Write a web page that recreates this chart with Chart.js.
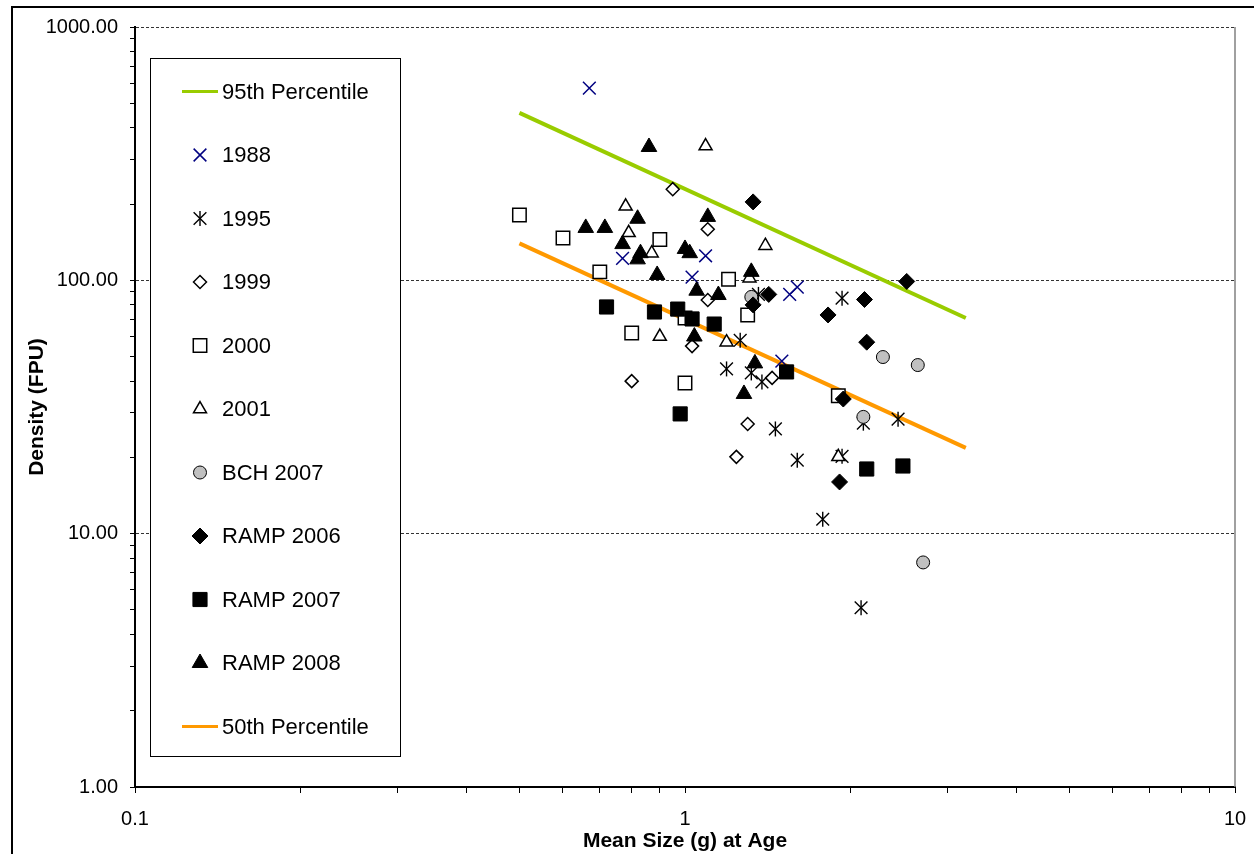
<!DOCTYPE html>
<html>
<head>
<meta charset="utf-8">
<title>Density vs Mean Size at Age</title>
<script src="https://cdn.jsdelivr.net/npm/chart.js@4.4.0/dist/chart.umd.min.js"></script>
<style>
  html, body { margin: 0; padding: 0; background: #fff; }
  #wrap { width: 1254px; height: 854px; }
</style>
</head>
<body>
<div id="wrap"><canvas id="density-chart" width="1254" height="854"></canvas></div>
<script>
// values (x = mean size in g, y = density in FPU)
const x95 = [0.50, 3.24];
const y95 = [458, 71];
const x50 = [0.50, 3.24];
const y50 = [140, 21.8];

const x1988 = [0.67, 0.77, 1.03, 1.09, 1.55, 1.60, 1.50];
const y1988 = [574, 122, 103, 125, 88, 94, 48];

const x1995 = [1.26, 1.19, 1.32, 1.38, 1.36, 1.46, 1.60, 1.93, 1.78, 1.93, 2.11, 2.44, 2.09];
const y1995 = [58, 44.7, 43.1, 39.7, 88, 25.9, 19.5, 85, 11.4, 20.2, 27.3, 28.3, 5.1];

const x1999 = [0.95, 1.10, 1.10, 1.03, 0.80, 1.30, 1.24, 1.44];
const y1999 = [229, 159, 83.6, 55, 40, 27.1, 20.1, 41.2];

const x2000 = [0.50, 0.60, 0.70, 0.90, 0.80, 1.00, 1.00, 1.20, 1.30, 1.90];
const y2000 = [181, 147, 108, 145, 62, 39.3, 71, 101, 73, 35];

const x2001 = [1.09, 0.78, 0.79, 0.87, 0.90, 1.40, 1.19, 1.31, 1.90];
const y2001 = [339, 196, 154, 128, 60, 137, 57, 102, 20.1];

const xBch2007 = [1.32, 2.29, 2.65, 2.11, 2.71];
const yBch2007 = [86, 49.8, 46.3, 28.9, 7.7];

const xRamp2006 = [1.33, 1.42, 1.33, 1.82, 2.12, 2.53, 2.14, 1.94, 1.91];
const yRamp2006 = [204, 88, 80, 73, 84, 99, 57, 34, 16];

const xRamp2007 = [0.72, 0.88, 0.97, 1.03, 1.13, 0.98, 1.53, 2.14, 2.49];
const yRamp2007 = [78.5, 75, 77, 70.4, 67.2, 29.7, 43.5, 18, 18.5];

const xRamp2008 = [0.86, 0.66, 0.715, 0.82, 0.77, 0.83, 0.82, 0.89, 1.00, 1.02, 1.10, 1.05, 1.15, 1.32, 1.04, 1.34, 1.28];
const yRamp2008 = [336, 161, 161, 175, 139, 128, 121, 105, 133, 128, 178, 91, 87.5, 108, 60, 47, 35.6];

const xMajorTicks = [0.1, 1, 10];
const xTickLabels = ['0.1', '1', '10'];
const yMajorTicks = [1, 10, 100, 1000];
const yTickLabels = ['1.00', '10.00', '100.00', '1000.00'];

const fontFamily = 'Arial, "Liberation Sans", sans-serif';

function toPoints(xs, ys) {
    return xs.map((x, i) => ({ x: x, y: ys[i] }));
}

// ticks at 1..9 of every decade, like Excel's log axis
function logTicks(min, max) {
    const t = [];
    for (let d = min; d < max * 0.999; d *= 10) {
        for (let k = 1; k < 10; k++) t.push(+(d * k).toPrecision(3));
    }
    t.push(max);
    return t.map(v => ({ value: v }));
}

// 1995 uses Excel's "star" marker: an X plus a vertical bar (overlay)
const series = [
    { label: '95th Percentile', xs: x95, ys: y95, line: true, color: '#99CC00' },
    { label: '1988', xs: x1988, ys: y1988, style: 'crossRot', radius: 9, fill: '#000080', border: '#000080', bw: 1.5 },
    { label: '1995', xs: x1995, ys: y1995, style: 'crossRot', radius: 9, fill: '#000', border: '#000', bw: 1.4,
      overlay: { style: 'line', rotation: 90, radius: 7.5 } },
    { label: '1999', xs: x1999, ys: y1999, style: 'rectRot', radius: 6.5, fill: '#fff', border: '#000', bw: 1.5 },
    { label: '2000', xs: x2000, ys: y2000, style: 'rect', radius: 9.5, fill: '#fff', border: '#000', bw: 1.5 },
    { label: '2001', xs: x2001, ys: y2001, style: 'triangle', radius: 7.5, fill: '#fff', border: '#000', bw: 1.5 },
    { label: 'BCH 2007', xs: xBch2007, ys: yBch2007, style: 'circle', radius: 6.5, fill: '#C0C0C0', border: '#000', bw: 1 },
    { label: 'RAMP 2006', xs: xRamp2006, ys: yRamp2006, style: 'rectRot', radius: 8, fill: '#000', border: '#000', bw: 1 },
    { label: 'RAMP 2007', xs: xRamp2007, ys: yRamp2007, style: 'rect', radius: 10, fill: '#000', border: '#000', bw: 1 },
    { label: 'RAMP 2008', xs: xRamp2008, ys: yRamp2008, style: 'triangle', radius: 9, fill: '#000', border: '#000', bw: 1 },
    { label: '50th Percentile', xs: x50, ys: y50, line: true, color: '#FF9900' }
];

const datasets = [];
series.forEach((s, i) => {
    if (s.line) {
        datasets.push({
            label: s.label,
            data: toPoints(s.xs, s.ys),
            showLine: true,
            borderColor: s.color,
            borderWidth: 4,
            pointRadius: 0,
            order: 100
        });
        return;
    }
    datasets.push({
        label: s.label,
        data: toPoints(s.xs, s.ys),
        pointStyle: s.style,
        pointRadius: s.radius,
        backgroundColor: s.fill,
        borderColor: s.border,
        borderWidth: s.bw,
        order: series.length - i
    });
    if (s.overlay) {
        datasets.push({
            label: s.label,
            data: toPoints(s.xs, s.ys),
            pointStyle: s.overlay.style,
            rotation: s.overlay.rotation,
            pointRadius: s.overlay.radius,
            backgroundColor: s.fill,
            borderColor: s.border,
            borderWidth: s.bw,
            order: series.length - i
        });
    }
});

const framePlugin = {
    id: 'frame',
    beforeDraw(chart) {
        const ctx = chart.ctx;
        ctx.save();
        ctx.fillStyle = '#fff';
        ctx.fillRect(0, 0, chart.width, chart.height);
        ctx.strokeStyle = '#000';
        ctx.lineWidth = 2;
        ctx.strokeRect(12, 7, chart.width + 40, chart.height + 40);
        ctx.restore();
    },
    beforeDatasetsDraw(chart) {
        const { ctx, chartArea } = chart;
        ctx.save();
        ctx.strokeStyle = '#808080';
        ctx.lineWidth = 1.5;
        ctx.beginPath();
        ctx.moveTo(chartArea.right, chartArea.top);
        ctx.lineTo(chartArea.right, chartArea.bottom);
        ctx.stroke();
        ctx.restore();
    }
};

const boxLegend = {
    id: 'boxLegend',
    afterDraw(chart) {
        const ctx = chart.ctx;
        ctx.save();
        ctx.fillStyle = '#fff';
        ctx.fillRect(150.5, 58.5, 250, 698);
        ctx.strokeStyle = '#000';
        ctx.lineWidth = 1;
        ctx.strokeRect(150.5, 58.5, 250, 698);
        ctx.font = '22px ' + fontFamily;
        ctx.textBaseline = 'middle';
        series.forEach((s, i) => {
            const y = 91.5 + i * 63.5;
            if (s.line) {
                ctx.strokeStyle = s.color;
                ctx.lineWidth = 3;
                ctx.beginPath();
                ctx.moveTo(182, y);
                ctx.lineTo(218, y);
                ctx.stroke();
            } else {
                ctx.fillStyle = s.fill;
                ctx.strokeStyle = s.border;
                ctx.lineWidth = s.bw;
                Chart.helpers.drawPoint(ctx, { pointStyle: s.style, radius: s.radius, rotation: 0, borderWidth: s.bw }, 200, y);
                if (s.overlay) {
                    Chart.helpers.drawPoint(ctx, { pointStyle: s.overlay.style, radius: s.overlay.radius,
                        rotation: s.overlay.rotation, borderWidth: s.bw }, 200, y);
                }
            }
            ctx.fillStyle = '#000';
            ctx.fillText(s.label, 222, y + 1);
        });
        ctx.restore();
    }
};

const ctx = document.getElementById('density-chart').getContext('2d');

new Chart(ctx, {
    type: 'scatter',
    data: { datasets: datasets },
    plugins: [framePlugin, boxLegend],
    options: {
        responsive: false,
        animation: false,
        devicePixelRatio: 1,
        events: [],
        layout: { padding: { top: 27, right: 19, bottom: 0, left: 0 } },
        plugins: {
            legend: { display: false },
            tooltip: { enabled: false }
        },
        scales: {
            x: {
                type: 'logarithmic',
                position: 'bottom',
                min: 0.1,
                max: 10,
                afterBuildTicks: scale => { scale.ticks = logTicks(0.1, 10); },
                afterFit: scale => {
                    scale.height = 67;
                    scale.paddingLeft = 0;
                    scale.paddingRight = 0;
                },
                ticks: {
                    autoSkip: false,
                    maxRotation: 0,
                    padding: 14,
                    color: '#000',
                    font: { family: fontFamily, size: 20 },
                    callback: value => {
                        const k = xMajorTicks.indexOf(+value.toPrecision(3));
                        return k >= 0 ? xTickLabels[k] : '';
                    }
                },
                grid: {
                    drawOnChartArea: false,
                    tickLength: 6,
                    tickColor: '#000',
                    tickWidth: 1
                },
                border: { color: '#000', width: 2 },
                title: {
                    display: true,
                    text: 'Mean Size (g) at Age',
                    color: '#000',
                    font: { family: fontFamily, size: 21, weight: 'bold' },
                    padding: { top: 0, bottom: 0 }
                }
            },
            y: {
                type: 'logarithmic',
                position: 'left',
                min: 1,
                max: 1000,
                afterBuildTicks: scale => { scale.ticks = logTicks(1, 1000); },
                afterFit: scale => { scale.width = 135; },
                ticks: {
                    autoSkip: false,
                    padding: 12,
                    color: '#000',
                    font: { family: fontFamily, size: 20 },
                    callback: value => {
                        const k = yMajorTicks.indexOf(+value.toPrecision(3));
                        return k >= 0 ? yTickLabels[k] : '';
                    }
                },
                grid: {
                    color: c => (c.tick && yMajorTicks.indexOf(+c.tick.value.toPrecision(3)) >= 0) ? '#333' : 'rgba(0,0,0,0)',
                    lineWidth: 1,
                    tickLength: 5,
                    tickColor: '#000',
                    tickWidth: 1
                },
                border: { color: '#000', width: 2, dash: [3, 2] },
                title: {
                    display: true,
                    text: 'Density (FPU)',
                    color: '#000',
                    font: { family: fontFamily, size: 21, weight: 'bold' },
                    padding: { top: 25, bottom: 0 }
                }
            }
        }
    }
});
</script>
</body>
</html>
